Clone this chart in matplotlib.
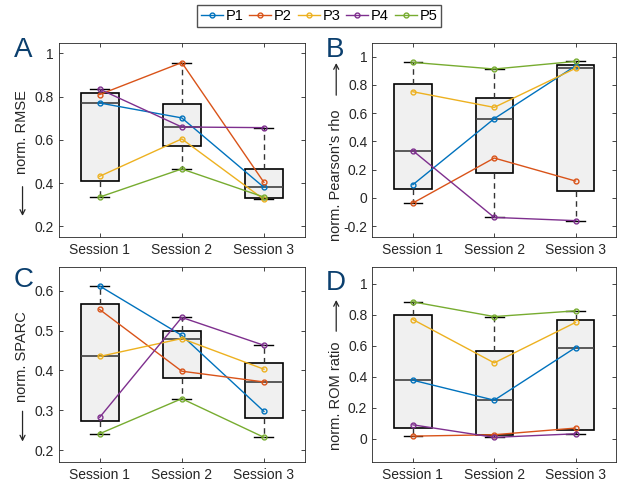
import numpy as np
import matplotlib.pyplot as plt

plt.rcParams['font.family'] = ['Liberation Sans', 'DejaVu Sans']

# data: one row per participant (P1..P5), one column per session
sessions = ['Session 1', 'Session 2', 'Session 3']
participants = ['P1', 'P2', 'P3', 'P4', 'P5']
colors = ['#0072BD', '#D95319', '#EDB120', '#7E2F8E', '#77AC30']

rmse = [[0.771, 0.702, 0.381],
        [0.810, 0.958, 0.404],
        [0.432, 0.605, 0.325],
        [0.835, 0.660, 0.657],
        [0.336, 0.466, 0.336]]
rho = [[0.093, 0.561, 0.935],
       [-0.037, 0.282, 0.119],
       [0.752, 0.641, 0.918],
       [0.334, -0.139, -0.162],
       [0.960, 0.913, 0.967]]
sparc = [[0.612, 0.488, 0.297],
         [0.553, 0.398, 0.371],
         [0.435, 0.480, 0.403],
         [0.282, 0.533, 0.463],
         [0.241, 0.329, 0.232]]
rom = [[0.378, 0.249, 0.589],
       [0.017, 0.026, 0.069],
       [0.770, 0.490, 0.751],
       [0.090, 0.009, 0.032],
       [0.884, 0.789, 0.826]]

# letter, data, label, label centre, arrow (tail, head) in axes fraction, ylim, yticks
panels = [
    ('A', rmse, 'norm. RMSE', 0.54, (0.26, 0.11), (0.15, 1.05), [0.2, 0.4, 0.6, 0.8, 1.0]),
    ('B', rho, "norm. Pearson's rho", 0.32, (0.73, 0.895), (-0.28, 1.1), [-0.2, 0, 0.2, 0.4, 0.6, 0.8, 1.0]),
    ('C', sparc, 'norm. SPARC', 0.54, (0.26, 0.105), (0.17, 0.66), [0.2, 0.3, 0.4, 0.5, 0.6]),
    ('D', rom, 'norm. ROM ratio', 0.34, (0.67, 0.83), (-0.15, 1.11), [0, 0.2, 0.4, 0.6, 0.8, 1.0]),
]


def box_stats(vals):
    # matlab-style quartiles (hazen) and 1.5 IQR whiskers
    vals = np.asarray(vals)
    q1, med, q3 = np.percentile(vals, [25, 50, 75], method='hazen')
    iqr = q3 - q1
    lo = vals[vals >= q1 - 1.5 * iqr].min()
    hi = vals[vals <= q3 + 1.5 * iqr].max()
    return dict(med=med, q1=q1, q3=q3, whislo=lo, whishi=hi, fliers=[])


fig = plt.figure(figsize=(6.24, 4.83), dpi=100)
positions = [
    [0.0938, 0.5087, 0.395, 0.403],
    [0.5965, 0.5087, 0.391, 0.403],
    [0.0938, 0.0435, 0.395, 0.404],
    [0.5965, 0.0435, 0.391, 0.404],
]
letter_pos = [(14, 57), (326, 57), (14, 287), (326, 290)]

x = np.arange(1, len(sessions) + 1)
for k, (letter, data, ylabel, ly_c, arrow, ylim, yticks) in enumerate(panels):
    ax = fig.add_axes(positions[k])
    data = np.array(data)
    stats = [box_stats(data[:, j]) for j in range(len(sessions))]
    ax.bxp(stats, positions=x, widths=0.46, capwidths=0.23, showfliers=False,
           patch_artist=True,
           boxprops=dict(facecolor='#f0f0f0', edgecolor='black', linewidth=1.2),
           medianprops=dict(color='#404040', linewidth=1.2),
           whiskerprops=dict(color='#333333', linewidth=1.0, linestyle=(0, (4, 3))),
           capprops=dict(color='black', linewidth=1.0))

    for i, p in enumerate(participants):
        ax.plot(x, data[i], '-o', color=colors[i], lw=1.0, ms=3.5,
                mfc='none', mew=1.0, zorder=4, label=p)

    ax.set_xlim(0.5, 3.5)
    ax.set_ylim(*ylim)
    ax.set_xticks(x)
    ax.set_xticklabels(sessions)
    ax.set_yticks(yticks)
    ax.set_yticklabels(['%g' % t for t in yticks])
    ax.tick_params(direction='in', top=True, right=True, length=3, width=0.6,
                   labelsize=10, colors='#262626', pad=4)
    ax.tick_params(axis='y', pad=3.5)
    for s in ax.spines.values():
        s.set_color('#262626')
        s.set_linewidth(0.6)

    # label + direction arrow
    ax_w = positions[k][2] * 624
    ax.set_ylabel(ylabel, fontsize=10.5, color='#262626')
    ax.yaxis.set_label_coords(-29.5 / ax_w, ly_c)
    arrow_x = -36.0 / ax_w
    ax.annotate('', xy=(arrow_x, arrow[1]), xytext=(arrow_x, arrow[0]),
                xycoords='axes fraction', annotation_clip=False,
                arrowprops=dict(arrowstyle='->,head_length=0.35,head_width=0.18',
                                color='#262626', lw=0.9, shrinkA=0, shrinkB=0))

    lx, ly = letter_pos[k]
    fig.text(lx / 624, 1 - ly / 483, letter, fontsize=20, color='#0b3f6e',
             ha='left', va='baseline')

    if k == 0:
        handles, labels = ax.get_legend_handles_labels()

fig.legend(handles, labels, loc='center', bbox_to_anchor=(319 / 624, 1 - 16 / 483),
           ncol=5, fontsize=10.5, frameon=True, fancybox=False, edgecolor='#262626',
           handlelength=1.5, handletextpad=0.2, columnspacing=0.4,
           borderpad=0.25, borderaxespad=0)

fig.savefig('out.png', dpi=100)
